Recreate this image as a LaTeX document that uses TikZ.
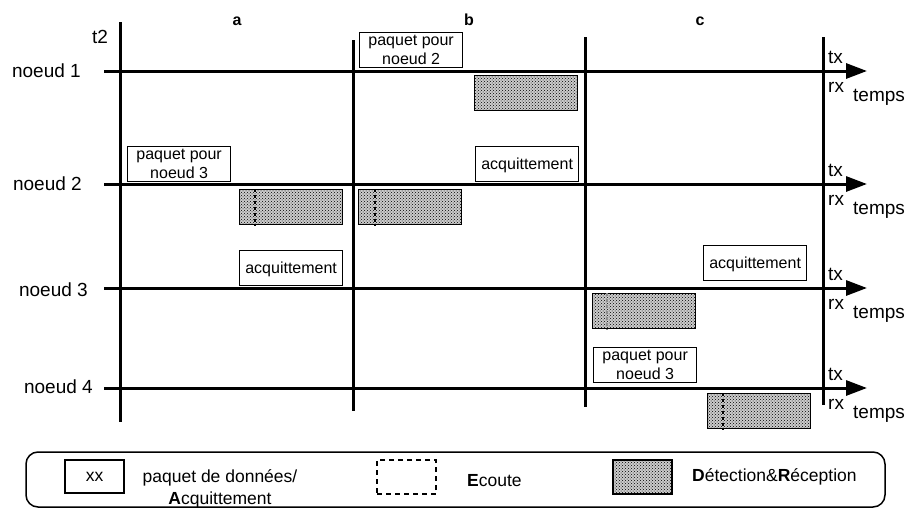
\documentclass[tikz,border=0pt]{standalone}
\usepackage{fontspec}
\setmainfont{Liberation Sans}
\usepackage{tikz}
\usetikzlibrary{arrows.meta, patterns, positioning}

\begin{document}
\begin{tikzpicture}[
  x=1pt, y=-1pt,
  lbl/.style={inner sep=0pt, font=\fontsize{19}{22}\selectfont},
  col/.style={inner sep=0pt, font=\fontsize{16}{19}\selectfont\bfseries},
  pkt/.style={rectangle, draw, fill=white, line width=1.3pt, minimum width=103pt, minimum height=35pt,
              inner sep=0pt, text depth=0pt, align=center, font=\fontsize{16}{19}\selectfont},
  rxbox/.style={rectangle, draw, line width=1.3pt, minimum width=103pt, minimum height=35pt,
                fill=gray!40, postaction={pattern=crosshatch dots, pattern color=black}},
  ecoute/.style={line width=1.5pt, dash pattern=on 3pt off 3pt},
  slot/.style={line width=3pt},
  tline/.style={line width=3pt, -{Triangle[length=21pt, width=15pt]}},
  legtext/.style={inner sep=0pt, align=center, font=\fontsize{17.5}{22}\selectfont}
]
\useasboundingbox (0,0) rectangle (908,509);

% --- Time lines of the nodes ---
\foreach \y/\n/\lx/\ly in {71/1/81/77, 184/2/82/190, 288/3/88/296, 388/4/93/393} {
  \coordinate (start\n) at (104,\y);
  \coordinate (end\n) at (867,\y);
  \draw[tline] (start\n) -- (end\n);
  \node[lbl, anchor=base east] (noeud\n) at (\lx,\ly) {noeud \n};
  \node[lbl, anchor=base west] (tx\n) at (828,\y-8) {tx};
  \node[lbl, anchor=base west] (rx\n) at (828,\y+21) {rx};
  \node[lbl, anchor=base west] (temps\n) at (853,\y+30) {temps};
}

% --- Slot boundaries ---
\draw[slot] (120,22) -- (120,422);
\draw[slot] (353,40) -- (353,411);
\draw[slot] (585,37) -- (585,407);
\draw[slot] (823,37) -- (823,405);

\node[lbl, anchor=base] (t2) at (100,43) {t2};
\node[col, anchor=base] (col_a) at (237,25) {a};
\node[col, anchor=base] (col_b) at (469,25) {b};
\node[col, anchor=base] (col_c) at (700,25) {c};

% --- Slot a ---
\node[pkt, anchor=north west] (pkt_n3a) at (127,146) {paquet pour\\noeud 3};
\node[rxbox, anchor=north west] (rx_n2a) at (239,189) {};
\node[pkt, anchor=north west] (ack_n3a) at (239,250) {acquittement};

% --- Slot b ---
\node[pkt, anchor=north west] (pkt_n2) at (359,32) {paquet pour\\noeud 2};
\node[rxbox, anchor=north west] (rx_n1) at (474,75) {};
\node[pkt, anchor=north west] (ack_n2) at (475,146) {acquittement};
\node[rxbox, anchor=north west] (rx_n2b) at (358,189) {};

% --- Slot c ---
\node[pkt, anchor=north west] (ack_n3c) at (703,245) {acquittement};
\node[rxbox, anchor=north west] (rx_n3) at (592,293) {};
\node[pkt, anchor=north west] (pkt_n3c) at (593,347) {paquet pour\\noeud 3};
\node[rxbox, anchor=north west] (rx_n4) at (707,393) {};

% --- Listening phases ---
\draw[ecoute] ([xshift=16pt]rx_n2a.north west) -- ([xshift=16pt]rx_n2a.south west);
\draw[ecoute] ([xshift=17pt]rx_n2b.north west) -- ([xshift=17pt]rx_n2b.south west);
\draw[ecoute, black!45] ([xshift=15pt]rx_n3.north west) -- ([xshift=15pt]rx_n3.south west);
\draw[ecoute] ([xshift=16pt]rx_n4.north west) -- ([xshift=16pt]rx_n4.south west);

% --- Legend ---
\node[draw, fill=white, line width=1.5pt, rounded corners=12pt,
      minimum width=859pt, minimum height=55pt] (legend) at (455.5,479.5) {};
\node[pkt, minimum width=59pt, minimum height=33pt, font=\fontsize{17.5}{20}\selectfont] (leg_pkt) at (94.5,476.5) {xx};
\node[legtext] (leg_pkt_txt) at (220,489) {paquet de données/\\\textbf{A}cquittement};
\node[draw, line width=1.3pt, dash pattern=on 5pt off 4pt,
      minimum width=59pt, minimum height=34pt] (leg_ecoute) at (406.5,477) {};
\node[legtext, anchor=west] (leg_ecoute_txt) at (467,481) {\textbf{E}coute};
\node[rxbox, minimum width=59pt, minimum height=34pt] (leg_rx) at (642.5,477) {};
\node[legtext, anchor=west] (leg_rx_txt) at (692,477) {\textbf{D}étection\&\textbf{R}éception};

\end{tikzpicture}
\end{document}
